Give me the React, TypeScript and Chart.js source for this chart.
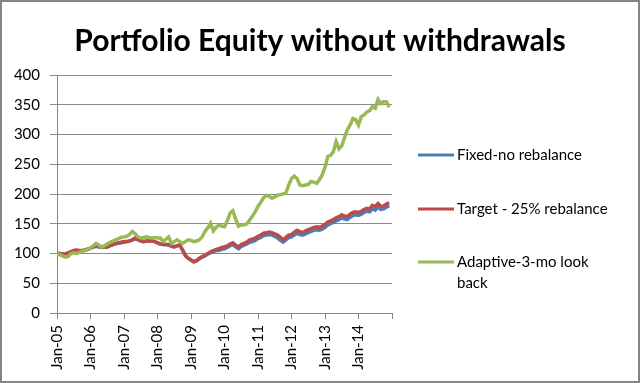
import React, { useEffect, useRef } from 'react';
import { Chart, registerables } from 'chart.js';

Chart.register(...registerables);

const chartTitle = 'Portfolio Equity without withdrawals';
const tickLabels = ['Jan-05', 'Jan-06', 'Jan-07', 'Jan-08', 'Jan-09', 'Jan-10', 'Jan-11', 'Jan-12', 'Jan-13', 'Jan-14'];
const yTicks = [0, 50, 100, 150, 200, 250, 300, 350, 400];

const seriesNames = ['Fixed-no rebalance', 'Target - 25% rebalance', 'Adaptive-3-mo look back'];

// monthly values, Jan-05 .. Dec-14
const fixedNoRebalance = [
  100, 100, 99, 99, 101, 102, 104, 105, 104, 104, 106, 107,
  109, 111, 112, 111, 110, 111, 111, 113, 115, 116, 117, 118,
  119, 120, 121, 123, 125, 123, 121, 120, 121, 121, 121, 120,
  118, 116, 115, 115, 114, 112, 111, 113, 114, 106, 97, 92,
  89, 86, 88, 91, 94, 96, 99, 101, 103, 105, 105, 107,
  108, 110, 113, 115, 111, 108, 112, 114, 116, 119, 120, 122,
  125, 127, 130, 131, 132, 131, 129, 126, 122, 119, 123, 127,
  128, 131, 134, 132, 131, 133, 135, 137, 139, 140, 139, 141,
  144, 148, 150, 152, 155, 157, 160, 158, 157, 161, 164, 165,
  164, 166, 169, 171, 170, 175, 173, 178, 174, 175, 178, 180,
];

const target25Rebalance = [
  100, 100, 99, 99, 101, 103, 105, 106, 105, 105, 106, 107,
  109, 111, 113, 112, 111, 111, 111, 113, 115, 117, 118, 119,
  120, 120, 121, 123, 126, 124, 122, 120, 121, 121, 121, 120,
  118, 116, 115, 115, 115, 113, 111, 113, 114, 105, 96, 92,
  89, 86, 88, 92, 95, 97, 100, 103, 105, 107, 108, 110,
  111, 113, 116, 118, 114, 111, 115, 117, 119, 123, 124, 126,
  129, 131, 134, 135, 136, 135, 133, 131, 127, 123, 127, 131,
  132, 136, 139, 137, 135, 138, 140, 142, 144, 145, 144, 146,
  149, 153, 155, 157, 160, 162, 165, 163, 162, 166, 169, 170,
  169, 171, 174, 176, 175, 181, 179, 184, 179, 180, 183, 185,
];

const adaptive3MoLookBack = [
  100, 98, 96, 94, 95, 100, 101, 100, 102, 104, 105, 107,
  109, 113, 117, 114, 111, 113, 116, 119, 121, 123, 125, 127,
  128, 129, 132, 137, 133, 128, 126, 127, 128, 127, 126, 127,
  126, 126, 120, 124, 128, 117, 120, 123, 120, 117, 120, 123,
  122, 120, 121, 123, 128, 137, 143, 151, 138, 144, 148, 146,
  145, 155, 168, 172, 158, 146, 148, 148, 150, 156, 163, 170,
  179, 186, 194, 198, 196, 193, 195, 198, 199, 200, 202, 215,
  226, 230, 226, 215, 214, 215, 216, 221, 220, 218, 224, 232,
  245, 263, 265, 271, 288, 276, 281, 295, 308, 316, 327, 325,
  316, 330, 333, 338, 340, 347, 344, 359, 352, 355, 355, 346,
];

const seriesValues = [fixedNoRebalance, target25Rebalance, adaptive3MoLookBack];
const seriesColors = ['#4A7EBB', '#BE4B48', '#98B954'];

const FONT = 'Lato, "Open Sans", sans-serif';

const decorPlugin = {
  id: 'decor',
  afterDraw(chart: any) {
    const ctx = chart.ctx as CanvasRenderingContext2D;
    const W = chart.width;
    const H = chart.height;
    ctx.save();
    // outer border
    ctx.strokeStyle = '#868686';
    ctx.lineWidth = 2;
    ctx.strokeRect(1, 1, W - 2, H - 2);
    // title
    ctx.fillStyle = '#000';
    ctx.font = `bold 30px ${FONT}`;
    ctx.textAlign = 'center';
    ctx.textBaseline = 'middle';
    ctx.fillText(chartTitle, W / 2, 41);
    // legend
    const rows = [
      { y: 155, lines: [seriesNames[0]] },
      { y: 209, lines: [seriesNames[1]] },
      { y: 262, lines: ['Adaptive-3-mo look', 'back'] },
    ];
    ctx.font = `15px ${FONT}`;
    ctx.textAlign = 'left';
    rows.forEach((row, i) => {
      ctx.strokeStyle = seriesColors[i];
      ctx.lineWidth = 3;
      ctx.beginPath();
      ctx.moveTo(418, row.y);
      ctx.lineTo(454, row.y);
      ctx.stroke();
      row.lines.forEach((t, j) => {
        ctx.fillStyle = '#000';
        ctx.fillText(t, 457, row.y + j * 21);
      });
    });
    ctx.restore();
  },
};

export default function App() {
  const ref = useRef<HTMLCanvasElement | null>(null);
  useEffect(() => {
    document.body.style.margin = '0';
    const canvas = ref.current;
    if (!canvas) return;
    const datasets = seriesValues.map((vals, si) => ({
      label: seriesNames[si],
      data: vals.map((v, i) => ({ x: i, y: v })),
      borderColor: seriesColors[si],
      backgroundColor: seriesColors[si],
      borderWidth: 3.5,
      pointRadius: 0,
      tension: 0,
      order: 3 - si,
    }));
    const chart = new Chart(canvas, {
      type: 'line',
      data: { datasets },
      plugins: [decorPlugin],
      options: {
        responsive: false,
        animation: false,
        layout: { padding: { top: 75, right: 248, left: 0, bottom: 0 } },
        plugins: {
          legend: { display: false },
          title: { display: false },
          tooltip: { enabled: false },
        },
        scales: {
          x: {
            type: 'linear',
            min: 0,
            max: 120,
            afterFit: (s: any) => { s.height = 70; },
            afterBuildTicks: (s: any) => {
              s.ticks = Array.from({ length: tickLabels.length + 1 }, (_, k) => ({ value: k * 12 }));
            },
            ticks: {
              autoSkip: false,
              maxRotation: 90,
              minRotation: 90,
              padding: 6,
              color: '#000',
              font: { family: FONT, size: 15 },
              callback: (v: any) => {
                const k = Math.round(Number(v) / 12);
                return tickLabels[k] ?? '';
              },
            },
            grid: { drawOnChartArea: false, drawTicks: true, tickLength: 6, color: '#868686' },
            border: { color: '#868686', width: 1 },
          },
          y: {
            min: 0,
            max: 400,
            afterFit: (s: any) => { s.width = 57; },
            afterBuildTicks: (s: any) => { s.ticks = yTicks.map((v) => ({ value: v })); },
            ticks: {
              padding: 10,
              color: '#000',
              font: { family: FONT, size: 15 },
            },
            grid: { color: '#8a8a8a', lineWidth: 1, tickLength: 7 },
            border: { color: '#868686', width: 1 },
          },
        },
      },
    });
    return () => chart.destroy();
  }, []);
  return <canvas ref={ref} width={640} height={383} style={{ display: 'block' }} />;
}
